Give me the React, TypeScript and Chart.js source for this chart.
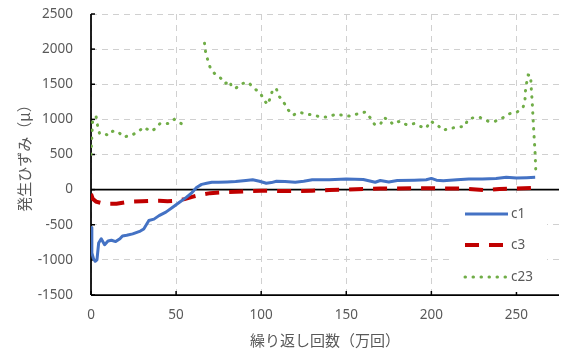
import React, { useEffect, useRef } from "react";
import { Chart, registerables } from "chart.js";

Chart.register(...registerables);

// ---- data ----
const c1X = [0, 0.5, 1.5, 2.5, 3.5, 4.5, 6, 8, 10, 12, 14.5, 17, 18.5, 21, 24.5, 29, 31, 34, 37, 40, 44, 48, 52, 56, 59, 62, 65, 68, 71, 75, 80, 85, 91, 95, 99, 103, 106, 109, 114, 120, 125, 130, 140, 150, 160, 167, 170, 175, 180, 190, 197, 200, 203, 207, 215, 222, 230, 238, 244, 250, 256, 261];
const c1Y = [-540, -900, -985, -1020, -1000, -760, -700, -785, -730, -720, -740, -700, -660, -650, -630, -590, -560, -440, -420, -370, -320, -250, -180, -110, -50, 30, 75, 90, 105, 105, 110, 115, 130, 140, 120, 90, 100, 120, 115, 105, 120, 140, 140, 150, 145, 105, 130, 110, 130, 135, 140, 160, 135, 125, 140, 150, 150, 160, 175, 165, 170, 175];

const c3X = [0, 1, 3, 6, 10, 15, 20, 25, 30, 35, 40, 45, 50, 55, 60, 65, 70, 80, 90, 100, 110, 120, 130, 140, 150, 160, 170, 180, 190, 200, 210, 220, 232, 240, 250, 261];
const c3Y = [-60, -130, -170, -190, -200, -200, -180, -170, -165, -160, -160, -165, -160, -135, -100, -70, -50, -35, -25, -15, -20, -20, -15, -5, 0, 10, 15, 15, 20, 20, 15, 15, -10, 10, 15, 25];

const c23X = [0, 0.5, 1, 3, 4, 5, 8, 10, 12.7, 15.7, 19, 23.5, 27.5, 31, 35, 38, 40.5, 45, 49, 53, 60, 66.7, 67.3, 68.6, 70, 72.5, 75.9, 78.8, 81.7, 82.4, 84.9, 88.6, 92.5, 96, 99.6, 101.6, 103.9, 105.5, 106.8, 108.8, 110.8, 113.3, 115.7, 118.6, 122.5, 126.8, 130.8, 134.7, 139.2, 143.5, 148, 152.3, 156.8, 161.2, 164, 166.6, 170, 171.9, 174.9, 177.4, 181.4, 185.3, 189.8, 193.5, 197, 199.4, 203.3, 206.8, 210.8, 215, 219.6, 221.5, 224.9, 228.8, 233.3, 237.6, 242.1, 246, 250.4, 253.9, 255, 255.3, 255.9, 256.9, 258.3, 258.8, 259.2, 260, 261, 261.4];
const c23Y = [500, 750, 1000, 1040, 890, 800, 800, 770, 830, 830, 750, 770, 820, 890, 830, 870, 940, 940, 1000, 940, null, 2085, 1965, 1845, 1740, 1655, 1595, 1510, 1545, 1470, 1440, 1510, 1525, 1440, 1370, 1275, 1210, 1320, 1425, 1440, 1320, 1240, 1140, 1060, 1100, 1075, 1060, 1035, 1035, 1070, 1060, 1045, 1080, 1105, 1025, 930, 925, 1025, 995, 930, 975, 925, 940, 900, 875, 975, 925, 845, 870, 890, 900, 1000, 1025, 1025, 975, 975, 1025, 1080, 1105, 1170, 1275, 1405, 1510, 1630, 1630, 1400, 1275, 900, 500, 240];

const seriesNames = ["c1", "c3", "c23"];
const xTitle = "繰り返し回数（万回）";
const yTitle = "発生ひずみ（μ）";
const xMin = 0, xMax = 275, xStep = 50;
const yMin = -1500, yMax = 2500, yStep = 500;

const toPts = (xs: number[], ys: (number | null)[]) => xs.map((x, i) => ({ x, y: ys[i] }));

const TEXT = "#595959";

const axesPlugin = {
  id: "excelAxes",
  beforeDatasetsDraw(chart: any) {
    const { ctx, chartArea: a, scales } = chart;
    const xs = scales.x, ys = scales.y;
    ctx.save();
    ctx.strokeStyle = "#000";
    ctx.lineWidth = 1.75;
    ctx.setLineDash([]);
    const y0 = ys.getPixelForValue(0);
    ctx.beginPath();
    ctx.moveTo(a.left, y0);
    ctx.lineTo(a.right, y0);
    ctx.stroke();
    ctx.beginPath();
    ctx.moveTo(a.left, a.top);
    ctx.lineTo(a.left, a.bottom);
    ctx.stroke();
    ctx.beginPath();
    ctx.moveTo(a.left, a.bottom);
    ctx.lineTo(a.right, a.bottom);
    ctx.stroke();
    ctx.lineWidth = 1.5;
    ys.ticks.forEach((t: any) => {
      const p = ys.getPixelForValue(t.value);
      ctx.beginPath();
      ctx.moveTo(a.left, p);
      ctx.lineTo(a.left + 4, p);
      ctx.stroke();
    });
    xs.ticks.forEach((t: any) => {
      const p = xs.getPixelForValue(t.value);
      ctx.beginPath();
      ctx.moveTo(p, a.bottom);
      ctx.lineTo(p, a.bottom - 4);
      ctx.stroke();
    });
    ctx.restore();
  },
  afterDraw(chart: any) {
    const { ctx } = chart;
    ctx.save();
    const bx = 452, by = 193, bw = 95, bh = 99;
    ctx.fillStyle = "#fff";
    ctx.fillRect(bx, by, bw, bh);
    const rows = [214, 245, 277];
    chart.data.datasets.forEach((ds: any, i: number) => {
      const y = rows[i];
      ctx.save();
      ctx.strokeStyle = ds.borderColor;
      ctx.lineWidth = ds.borderWidth;
      ctx.lineCap = ds.borderCapStyle || "butt";
      ctx.setLineDash(ds.borderDash || []);
      ctx.beginPath();
      ctx.moveTo(465, y);
      ctx.lineTo(508, y);
      ctx.stroke();
      ctx.restore();
      ctx.fillStyle = TEXT;
      ctx.font = "13.5px 'Noto Sans'";
      ctx.textBaseline = "middle";
      ctx.textAlign = "left";
      ctx.fillText(ds.label, 511, y);
    });
    ctx.restore();
  },
};

export default function App() {
  const ref = useRef<HTMLCanvasElement | null>(null);
  useEffect(() => {
    document.body.style.margin = "0";
    const canvas = ref.current!;
    const chart = new Chart(canvas, {
      type: "line",
      data: {
        datasets: [
          {
            label: seriesNames[0],
            data: toPts(c1X, c1Y),
            borderColor: "#4472C4",
            borderWidth: 3,
            pointRadius: 0,
            tension: 0,
            borderJoinStyle: "round",
          },
          {
            label: seriesNames[1],
            data: toPts(c3X, c3Y),
            borderColor: "#C00000",
            borderWidth: 4,
            borderDash: [14, 10],
            pointRadius: 0,
            tension: 0,
          },
          {
            label: seriesNames[2],
            data: toPts(c23X, c23Y),
            borderColor: "#70AD47",
            borderWidth: 3,
            borderDash: [0.5, 7.5],
            borderCapStyle: "round",
            pointRadius: 0,
            tension: 0,
            spanGaps: false,
          },
        ] as any,
      },
      options: {
        animation: false,
        responsive: false,
        maintainAspectRatio: false,
        layout: { padding: { left: 0, top: 14, right: 6, bottom: 0 } },
        plugins: { legend: { display: false }, tooltip: { enabled: false } },
        scales: {
          x: {
            type: "linear",
            min: xMin,
            max: xMax,
            border: { display: false, dash: [6, 5] },
            grid: { color: "#d0d0d0", lineWidth: 1, drawTicks: false },
            ticks: {
              stepSize: xStep,
              includeBounds: false,
              padding: 12,
              color: TEXT,
              font: { family: "'Noto Sans'", size: 13.5 },
              maxRotation: 0,
              callback: (v: any) => String(v),
            },
            title: {
              display: true,
              text: xTitle,
              color: TEXT,
              font: { family: "'Noto Sans CJK JP'", size: 15 },
              padding: { top: 0, bottom: 3 },
            },
            afterFit(s: any) {
              s.height = 352 - 295;
              s.paddingLeft = 0;
              s.paddingRight = 0;
            },
          },
          y: {
            type: "linear",
            min: yMin,
            max: yMax,
            border: { display: false, dash: [6, 5] },
            grid: { color: "#d0d0d0", lineWidth: 1, drawTicks: false },
            ticks: {
              stepSize: yStep,
              padding: 18,
              color: TEXT,
              font: { family: "'Noto Sans'", size: 13.5 },
              callback: (v: any) => String(v),
            },
            title: {
              display: true,
              text: yTitle,
              color: TEXT,
              font: { family: "'Noto Sans CJK JP'", size: 15 },
              padding: { top: 15, bottom: 0 },
            },
            afterFit(s: any) {
              s.width = 91;
              s.paddingTop = 0;
              s.paddingBottom = 0;
            },
          },
        },
      },
      plugins: [axesPlugin],
    });
    return () => chart.destroy();
  }, []);
  return (
    <div style={{ position: "absolute", left: 0, top: 0, width: 565, height: 352 }}>
      <canvas ref={ref} width={565} height={352} style={{ width: 565, height: 352, display: "block" }} />
    </div>
  );
}
